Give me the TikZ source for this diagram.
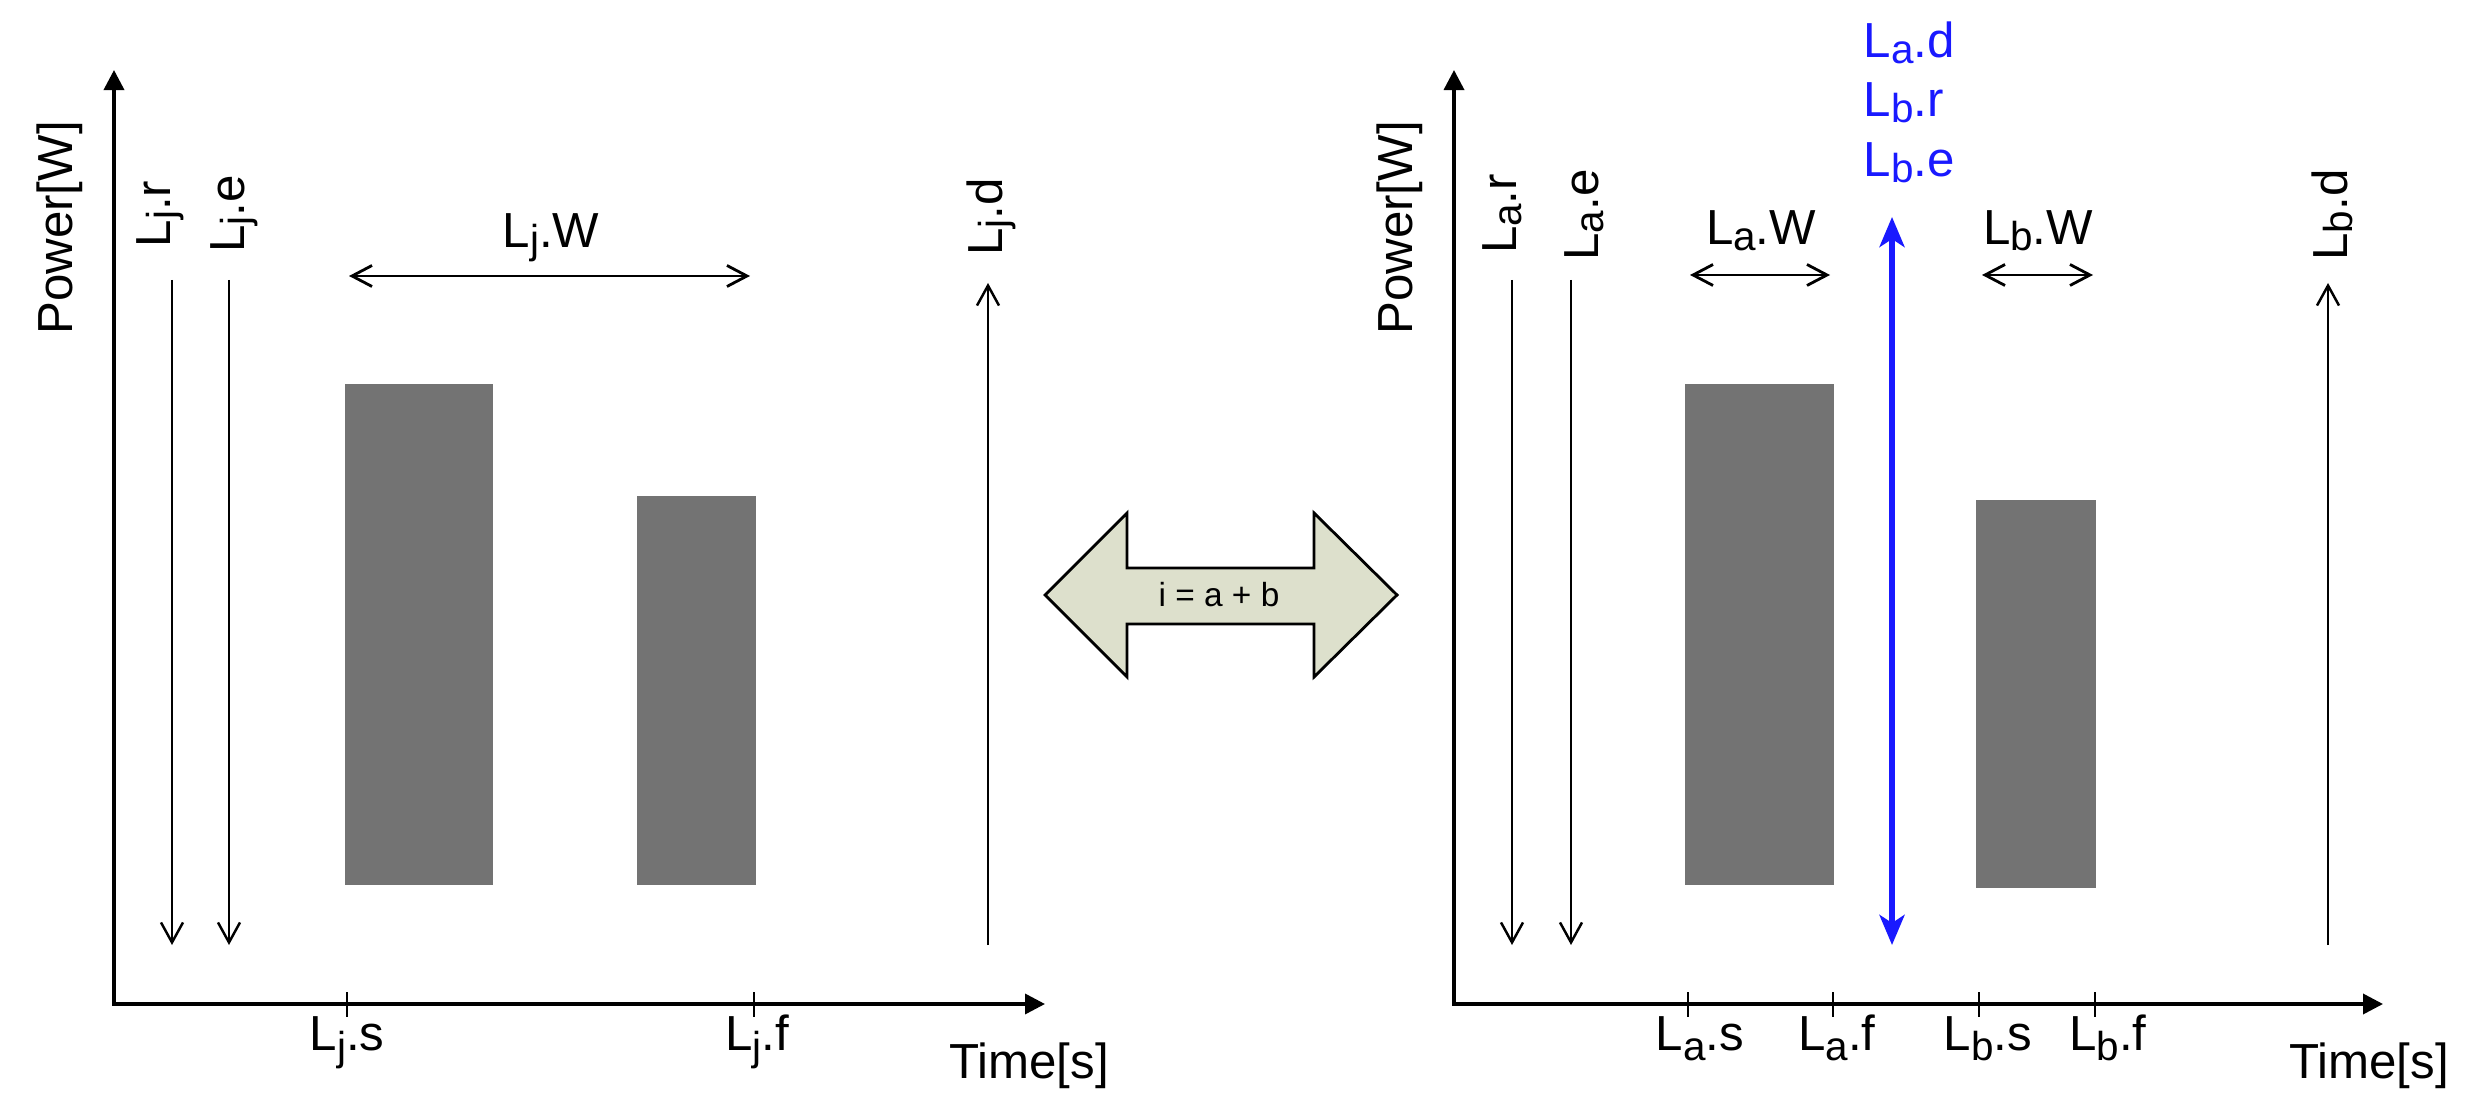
\documentclass[tikz,border=0pt]{standalone}
\usepackage{fontspec}
\setmainfont{Liberation Sans}
\usetikzlibrary{arrows.meta}
\definecolor{barfill}{HTML}{737373}
\definecolor{arrowfill}{RGB}{221,224,204}
\definecolor{lblue}{RGB}{25,25,255}
\newcommand{\lsub}[2][1.5pt]{\raisebox{-#1}{\fontsize{11.5}{12}\selectfont #2}}
\begin{document}
\begin{tikzpicture}[x=0.01cm, y=-0.01cm,
  lbl/.style={font=\fontsize{14}{16}\selectfont, inner sep=0pt, anchor=base},
  rlbl/.style={lbl, rotate=90},
  axisline/.style={line width=1pt, line join=miter, {Triangle[length=2mm,width=2mm]}-{Triangle[length=2mm,width=2mm]}},
  thinarrow/.style={line width=0.7pt, -{Straight Barb[length=2mm,width=2.2mm]}},
  dblarrow/.style={line width=0.8pt, {Straight Barb[length=2mm,width=2.1mm]}-{Straight Barb[length=2mm,width=2.1mm]}},
  tickline/.style={line width=0.6pt},
  bluearrow/.style={line width=1.5pt, draw=lblue, {Stealth[length=3mm,width=2.5mm,inset=0.8mm]}-{Stealth[length=3mm,width=2.5mm,inset=0.8mm]}, color=lblue},
]
\useasboundingbox (0,0) rectangle (2479,1113);

% ---------------- left chart ----------------
\coordinate (Ya) at (114,70);
\coordinate (Oa) at (114,1004);
\coordinate (Xa) at (1045,1004);
\draw[axisline] (Ya) -- (Oa) -- (Xa);

\fill[barfill] (345,384) rectangle (493,885);
\fill[barfill] (637,496) rectangle (756,885);

\node[rlbl] (powa) at (72,228) {Power[W]};
\node[rlbl] (ljr) at (170,214) {L\lsub{j}.r};
\node[rlbl] (lje) at (244,214) {L\lsub{j}.e};
\node[rlbl] (ljd) at (1002,217) {L\lsub{j}.d};

\coordinate (ljr1) at (172,280); \coordinate (ljr2) at (172,945);
\coordinate (lje1) at (229,280); \coordinate (lje2) at (229,945);
\coordinate (ljd1) at (988,945); \coordinate (ljd2) at (988,283);
\draw[thinarrow] (ljr1) -- (ljr2);
\draw[thinarrow] (lje1) -- (lje2);
\draw[thinarrow] (ljd1) -- (ljd2);

\node[lbl] (ljw) at (551,248) {L\lsub{j}.W};
\coordinate (ljw1) at (349,276); \coordinate (ljw2) at (750,276);
\draw[dblarrow] (ljw1) -- (ljw2);

\coordinate (tja1) at (347,992); \coordinate (tja2) at (347,1017);
\coordinate (tjb1) at (754,992); \coordinate (tjb2) at (754,1017);
\draw[tickline] (tja1) -- (tja2);
\draw[tickline] (tjb1) -- (tjb2);
\node[lbl] (ljs) at (347,1050) {L\lsub[3pt]{j}.s};
\node[lbl] (ljf) at (757,1050) {L\lsub[3pt]{j}.f};
\node[lbl] (tima) at (1029,1078) {Time[s]};

% ---------------- middle arrow ----------------
\draw[fill=arrowfill, line width=0.8pt, line join=miter]
  (1045,595) -- (1127,513) -- (1127,568) -- (1314,568) -- (1314,513) -- (1397,595)
  -- (1314,677) -- (1314,624) -- (1127,624) -- (1127,677) -- cycle;
\node[font=\fontsize{9.5}{11}\selectfont, inner sep=0pt] (eq) at (1219,595) {i = a + b};

% ---------------- right chart ----------------
\coordinate (Yb) at (1454,70);
\coordinate (Ob) at (1454,1004);
\coordinate (Xb) at (2383,1004);
\draw[axisline] (Yb) -- (Ob) -- (Xb);

\fill[barfill] (1685,384) rectangle (1834,885);
\fill[barfill] (1976,500) rectangle (2096,888);

\node[rlbl] (powb) at (1412,228) {Power[W]};
\node[rlbl] (lar) at (1516,214) {L\lsub{a}.r};
\node[rlbl] (lae) at (1598,215) {L\lsub{a}.e};
\node[rlbl] (lbd) at (2347,215) {L\lsub{b}.d};

\coordinate (lar1) at (1512,280); \coordinate (lar2) at (1512,945);
\coordinate (lae1) at (1571,280); \coordinate (lae2) at (1571,945);
\coordinate (lbd1) at (2328,945); \coordinate (lbd2) at (2328,283);
\draw[thinarrow] (lar1) -- (lar2);
\draw[thinarrow] (lae1) -- (lae2);
\draw[thinarrow] (lbd1) -- (lbd2);

\node[lbl] (law) at (1761,245) {L\lsub{a}.W};
\coordinate (law1) at (1690,275); \coordinate (law2) at (1830,275);
\draw[dblarrow] (law1) -- (law2);
\node[lbl] (lbw) at (2038,245) {L\lsub{b}.W};
\coordinate (lbw1) at (1982,275); \coordinate (lbw2) at (2093,275);
\draw[dblarrow] (lbw1) -- (lbw2);

\coordinate (bl1) at (1892,945); \coordinate (bl2) at (1892,217);
\draw[bluearrow] (bl1) -- (bl2);
\node[lbl, anchor=base west, text=lblue] (lad) at (1863,58) {L\lsub{a}.d};
\node[lbl, anchor=base west, text=lblue] (lbr) at (1863,117) {L\lsub{b}.r};
\node[lbl, anchor=base west, text=lblue] (lbe) at (1863,177) {L\lsub{b}.e};

\coordinate (tas1) at (1688,992); \coordinate (tas2) at (1688,1017);
\coordinate (taf1) at (1833,992); \coordinate (taf2) at (1833,1017);
\coordinate (tbs1) at (1979,992); \coordinate (tbs2) at (1979,1017);
\coordinate (tbf1) at (2095,992); \coordinate (tbf2) at (2095,1017);
\draw[tickline] (tas1) -- (tas2);
\draw[tickline] (taf1) -- (taf2);
\draw[tickline] (tbs1) -- (tbs2);
\draw[tickline] (tbf1) -- (tbf2);
\node[lbl] (las) at (1700,1050) {L\lsub[3pt]{a}.s};
\node[lbl] (laf) at (1837,1050) {L\lsub[3pt]{a}.f};
\node[lbl] (lbs) at (1988,1050) {L\lsub[3pt]{b}.s};
\node[lbl] (lbf) at (2108,1050) {L\lsub[3pt]{b}.f};
\node[lbl] (timb) at (2369,1078) {Time[s]};
\end{tikzpicture}
\end{document}
